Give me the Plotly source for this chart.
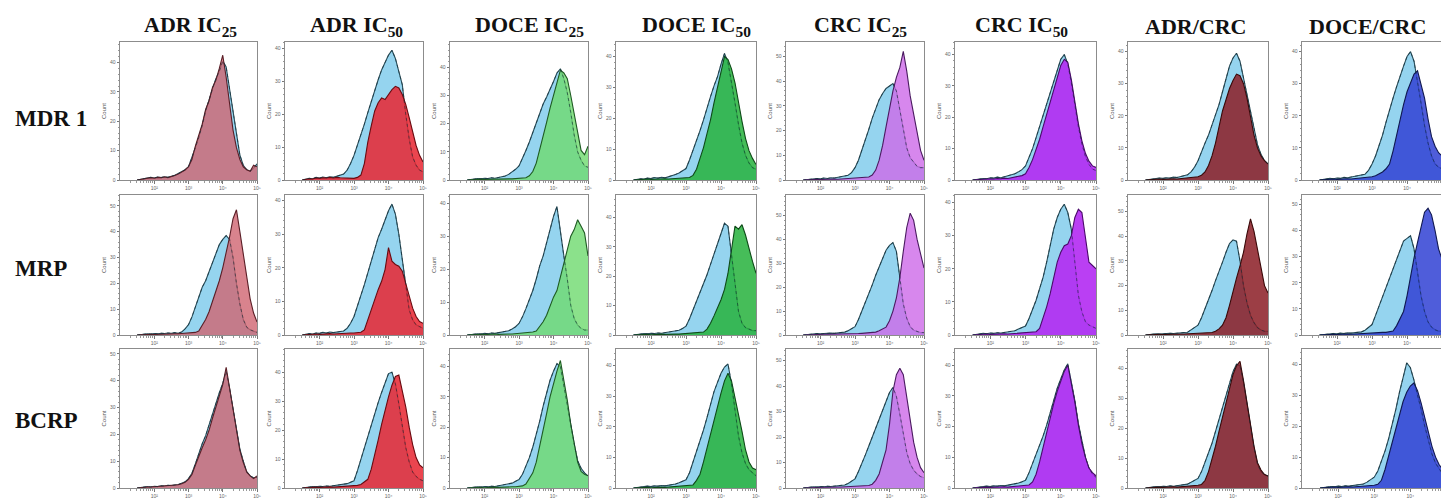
import plotly.graph_objects as go

# ---------------- data ----------------
bins_log10 = [1.5, 1.6, 1.7, 1.8, 1.9, 2.0, 2.1, 2.2, 2.3, 2.4, 2.5, 2.6,
              2.7, 2.8, 2.9, 3.0, 3.1, 3.2, 3.3, 3.4, 3.5, 3.6, 3.7, 3.8,
              3.9, 4.0, 4.1, 4.2, 4.3, 4.4, 4.5, 4.6, 4.7, 4.8, 4.9, 5.0]

column_titles = ["ADR IC<sub>25</sub>", "ADR IC<sub>50</sub>", "DOCE IC<sub>25</sub>", "DOCE IC<sub>50</sub>",
                 "CRC IC<sub>25</sub>", "CRC IC<sub>50</sub>", "ADR/CRC", "DOCE/CRC"]
row_labels = ["MDR 1", "MRP", "BCRP"]
x_tick_vals = [1e2, 1e3, 1e4, 1e5]
x_tick_text = ["10²", "10³", "10⁴", "10⁵"]

# MDR 1 row
mdr1_ctrl_adr25 = [0,0.2,0.4,0.6,0.9,0.7,1.0,0.8,1.1,0.9,1.2,1.6, 2.2,2.8,3.5,4.5,7.5,11,14.5,18.5,23.5,27.5,31,34.5,37,40.5,38.5,31,23,15,8.5,5,3.5,3,4,5.5]
mdr1_trt_adr25 = [0,0.2,0.3,0.5,0.8,0.6,0.9,0.8,1.0,0.8,1.1,1.5, 2.0,2.6,3.4,4.5,7,11.5,15,19,24,27,31.5,34,38,42.5,35,26,17,11,7,4.5,3.5,3,5,4.5]
mdr1_ctrl_adr50 = [0,0.3,0.5,0.4,0.8,0.6,0.9,0.7,1.0,0.8,1.1,1.3, 1.8,3,5,7.5,10.5,13.5,17,20.5,24,27,30.5,33.5,36,38,39.5,37,33,29,20,12.5,7,4.5,3,2.5]
mdr1_trt_adr50 = [0,0.2,0.4,0.3,0.6,0.5,0.7,0.6,0.8,0.6,0.8,0.7, 0.6,0.5,0.5,0.5,0.8,1.5,5,11.5,16.5,21,23.5,25,24.5,26,27.5,28.5,28,26,23,19,14.5,10.5,7.5,5.5]
mdr1_ctrl_doce25 = [0,0.2,0.3,0.5,0.4,0.6,0.5,0.8,0.6,0.9,1.1,1.4, 2,2.8,3.8,5,7.5,10.5,13.5,17,20.5,24,27,29.5,32,35,38,39.5,36,31,24,16,10,7,5,4.5]
mdr1_trt_doce25 = [0,0.1,0.2,0.2,0.3,0.2,0.3,0.2,0.3,0.3,0.4,0.3, 0.4,0.4,0.5,0.5,0.6,0.8,1.5,3,6,10.5,15.5,20.5,25.5,30,34.5,39,38,36,30,23,16,10.5,9,12]
mdr1_ctrl_doce50 = [0,0.2,0.4,0.3,0.6,0.5,0.8,0.6,0.9,0.7,1.0,1.3, 1.8,2.3,3,3.7,6.5,9.5,12.5,16,19.5,23.5,27,30.5,33.5,37.5,41,38,32,25,18,12,8,5.5,4,3.5]
mdr1_trt_doce50 = [0,0.1,0.2,0.2,0.3,0.2,0.3,0.3,0.3,0.4,0.3,0.4, 0.4,0.5,0.5,0.6,0.8,1.5,3.5,7,10.5,15,19.5,25,30,35.5,40,39,36,31.5,25,19,13.5,9.5,7,5]
mdr1_ctrl_crc25 = [0,0.2,0.4,0.3,0.6,0.5,0.8,0.6,0.9,0.8,1.1,1.2, 1.5,1.9,3,5,8,12,16,20.5,25,29,32.5,35,37,38,39,36,28,20,13,9,7,5.5,5,5]
mdr1_trt_crc25 = [0,0.1,0.2,0.2,0.3,0.2,0.3,0.3,0.3,0.4,0.3,0.4, 0.4,0.5,0.5,0.6,0.7,0.8,1,1.2,2,4,8,14,21.5,29,36,41.5,45.5,52,44,34,27,19,12,8]
mdr1_ctrl_crc50 = [0,0.2,0.3,0.5,0.4,0.7,0.6,0.9,0.7,1.0,1.2,1.5, 2,2.6,3.3,4.5,7,10,13.5,17,20.5,24,28,31.5,35,38.5,40,37,31,24,17,11.5,7.5,5,3.5,3]
mdr1_trt_crc50 = [0,0.1,0.2,0.3,0.2,0.4,0.3,0.5,0.4,0.6,0.5,0.7, 0.8,1,1.4,2,4,6.5,9.5,13,17,21,25,29,33,36.5,38.5,37.5,32,25,18,12.5,8.5,6,4.5,4]
mdr1_ctrl_adrcrc = [0,0.2,0.3,0.4,0.6,0.5,0.7,0.6,0.9,0.8,1.0,1.2, 1.6,2.5,4,6,9,11.5,14,17,20,23.5,27.5,31.5,35.5,38,39.5,37,32,27,21.5,16,11,8,6,5]
mdr1_trt_adrcrc = [0,0.1,0.2,0.2,0.3,0.2,0.3,0.3,0.4,0.3,0.4,0.5, 0.5,0.6,0.8,1,1.5,2.5,4.5,7.5,11.5,17,21.5,25,28.5,31,33,32.5,30,25.5,19.5,14,10,7.5,6,5]
mdr1_ctrl_docecrc = [0,0.2,0.3,0.5,0.4,0.6,0.5,0.8,0.7,0.9,1.0,1.2, 1.5,1.8,3,5,7.5,10.5,14,18,22,25.5,29,32.5,35.5,38.5,40,37,31,24,17,11.5,7.5,5,4,3.5]
mdr1_trt_docecrc = [0,0.1,0.2,0.2,0.3,0.2,0.3,0.3,0.4,0.3,0.4,0.5, 0.5,0.6,0.8,1,1.3,1.8,2.5,3.5,5,9,14,19.5,23.5,27.5,30.5,33,34,30,25.5,19,13.5,10.5,8.5,7.5]

# MRP row
mrp_ctrl_adr25 = [0,0.2,0.3,0.5,0.4,0.6,0.5,0.7,0.6,0.8,0.7,0.9, 0.7,1.2,2.4,4,7,11,15,18.5,21,24.5,28,31.5,35,37,38.5,37,30,20,12,6,3,2,1.5,1]
mrp_trt_adr25 = [0,0.1,0.2,0.2,0.3,0.2,0.3,0.3,0.4,0.3,0.4,0.5, 0.5,0.6,0.7,0.8,0.9,1,1.5,3.5,6,9,13,17,21,26,31.5,38,45,48.5,40,31,21,14,8.5,5]
mrp_ctrl_adr50 = [0,0.2,0.4,0.3,0.6,0.5,0.8,0.6,0.9,0.7,0.9,1.0, 1.2,2,3.5,5.5,8.5,11.5,15,18.5,22,26,29,31.5,34.5,37,39,36,30,22,14,7.5,4.5,3,2.5,2]
mrp_trt_adr50 = [0,0.1,0.2,0.2,0.3,0.2,0.3,0.3,0.4,0.3,0.4,0.4, 0.5,0.5,0.6,0.6,0.7,0.8,1.5,4.5,8,11,13.5,16,19.5,26,22,21,20.5,19,15.5,11.5,8,5.5,4,3.5]
mrp_ctrl_doce25 = [0,0.2,0.3,0.4,0.3,0.5,0.4,0.6,0.5,0.7,0.8,1.0, 1.3,1.8,2.5,3.5,5.5,8,10.5,13.5,17,21,24,28,32,36,39,31,24,17,9,5,3,2,1.5,1.5]
mrp_trt_doce25 = [0,0.1,0.1,0.2,0.2,0.1,0.2,0.2,0.3,0.2,0.3,0.3, 0.3,0.3,0.4,0.4,0.5,0.6,0.7,0.9,1.2,2.5,4,6,9,11.5,13.5,17.5,22,26,30,32,35,33,31,24]
mrp_ctrl_doce50 = [0,0.2,0.3,0.5,0.4,0.6,0.5,0.7,0.6,0.8,0.9,1.0, 1.2,1.6,2.2,3,5.5,8.5,11.5,14,17,20.5,24,27.5,31,35,38,37,27,17,8,4,2.5,2,1.5,1.5]
mrp_trt_doce50 = [0,0.1,0.1,0.2,0.2,0.1,0.2,0.2,0.3,0.2,0.3,0.3, 0.3,0.3,0.4,0.4,0.5,0.6,0.7,0.8,1,2,4,6.5,9,12,15.5,21,29,37,36,37.5,34,29,25,21]
mrp_ctrl_crc25 = [0,0.2,0.3,0.4,0.6,0.5,0.7,0.6,0.8,0.7,0.9,1.0, 1.2,1.8,2.5,3.5,6.5,10,13.5,17,21,25,28.5,32,35.5,37.5,38.7,35,23,13,7,3.5,2,1.5,1,1]
mrp_trt_crc25 = [0,0.1,0.2,0.2,0.3,0.2,0.3,0.3,0.3,0.4,0.3,0.4, 0.4,0.4,0.5,0.5,0.6,0.7,0.8,0.9,1,1.2,1.8,2.5,3.3,6,10,15.5,24,35,45,51,48,40,34,28]
mrp_ctrl_crc50 = [0,0.2,0.3,0.5,0.4,0.6,0.5,0.7,0.6,0.8,0.9,1.0, 1.3,1.8,2.2,2.7,5,7.5,10.5,14,17.5,22,27,32,35.5,38,39.5,37,32,22,12,7,4,3,2.5,2]
mrp_trt_crc50 = [0,0.1,0.2,0.2,0.3,0.2,0.3,0.3,0.3,0.4,0.3,0.4, 0.4,0.5,0.5,0.6,0.7,0.8,1,2,5,8.5,12.5,17.5,22,25,27,27.5,30,35.5,38,37,30,22,21,20]
mrp_ctrl_adrcrc = [0,0.2,0.3,0.5,0.4,0.6,0.5,0.7,0.6,0.8,0.9,1.0, 1.1,2,3,4,7,10.5,14.5,18,22,25.5,29.5,33.5,37,38.5,38,30,20,13,8,5,3,2,1.5,1.5]
mrp_trt_adrcrc = [0,0.1,0.2,0.2,0.3,0.2,0.3,0.3,0.4,0.3,0.4,0.4, 0.5,0.5,0.6,0.7,0.8,0.9,1,1,1.5,2.5,4,7,12,18,23,28,33.5,41,47,42,35,27,20,17]
mrp_ctrl_docecrc = [0,0.2,0.3,0.4,0.6,0.5,0.7,0.6,0.8,0.7,0.9,1.0, 1.2,1.8,2.8,4,7.5,11,15,18.5,21.5,25,29,32.5,36,37,38,33,24,15,9,5,3,2,1.5,1.5]
mrp_trt_docecrc = [0,0.1,0.2,0.2,0.3,0.2,0.3,0.3,0.4,0.3,0.4,0.4, 0.5,0.5,0.6,0.7,0.8,0.9,1,1,1.2,1.5,3.5,6,9,15,23,29.5,35.5,41,47,48.5,46,40,33,29]

# BCRP row
bcrp_ctrl_adr25 = [0,0.2,0.3,0.5,0.4,0.6,0.5,0.8,0.7,1.0,0.9,1.1, 1.3,1.8,2.3,3.5,5.5,9,13,16.5,19.5,23.5,28,32,35.5,39,43.5,37,29,21.5,14.5,10,6,4.5,3.8,4]
bcrp_trt_adr25 = [0,0.2,0.3,0.4,0.4,0.5,0.5,0.7,0.6,0.9,0.8,1.0, 1.2,1.6,2.1,3.2,5,8.5,12,15,18,21.5,26,30.5,34.5,38.5,45,37.5,29,21,14,9.5,6,4.5,3.5,4.5]
bcrp_ctrl_adr50 = [0,0.2,0.3,0.5,0.4,0.6,0.5,0.7,0.6,0.8,0.9,1.0, 1.2,1.5,2,2.5,6,10,14,18,22,26,29.5,33,36,39.5,40,36,29,21,14,9,5.5,4,3,2.5]
bcrp_trt_adr50 = [0,0.1,0.2,0.2,0.3,0.2,0.3,0.3,0.4,0.3,0.4,0.4, 0.5,0.5,0.6,0.7,0.9,1.2,2,3,6.5,11,16.5,22,27,31.5,35.5,38.5,39,34,28,21,15,10.5,8,7]
bcrp_ctrl_doce25 = [0,0.2,0.3,0.4,0.3,0.5,0.4,0.6,0.5,0.7,0.8,1.0, 1.2,1.6,2.2,2.8,4.5,7,10,13.5,17.5,22,27,31.5,35.5,38.5,41,40,34,28,21,14.5,9,6.5,5,4]
bcrp_trt_doce25 = [0,0.1,0.1,0.2,0.2,0.1,0.2,0.2,0.3,0.2,0.3,0.3, 0.3,0.4,0.4,0.5,0.7,1.3,3,5,8.5,13.5,19,24.5,30,34.5,38.5,42,36,29,21,14,8.5,5.5,4.5,4]
bcrp_ctrl_doce50 = [0,0.2,0.3,0.4,0.6,0.5,0.7,0.6,0.8,0.7,0.9,1.0, 1.3,1.7,2.2,2.7,5,8.5,11.5,15,19,23,27.5,31.5,34.5,37.5,39.5,40.5,34,25,17,11.5,8,6,5,4]
bcrp_trt_doce50 = [0,0.1,0.1,0.2,0.2,0.1,0.2,0.2,0.3,0.2,0.3,0.3, 0.3,0.4,0.5,0.6,0.8,1,2.5,4.5,8.5,13,18,22.5,27,31,35,37.5,35,30,24,18.5,12.5,8.5,6.5,6]
bcrp_ctrl_crc25 = [0,0.2,0.3,0.5,0.4,0.6,0.5,0.7,0.6,0.8,0.9,1.0, 1.2,1.8,2.6,3.6,6.5,9.5,13,16.5,20,24,27.5,31,34.5,37.5,39.5,36,29,21,14,9.5,7,5.5,4.5,4]
bcrp_trt_crc25 = [0,0.1,0.2,0.2,0.3,0.2,0.3,0.3,0.4,0.3,0.4,0.4, 0.5,0.5,0.6,0.7,0.8,0.9,1,1,1.5,3,5.5,10,15,25,38,44.5,47,44.5,35,26,18,12,8,6]
bcrp_ctrl_crc50 = [0,0.2,0.3,0.4,0.6,0.5,0.7,0.6,0.8,0.7,0.9,1.0, 1.2,1.6,2,2.5,5,8,10.5,13.5,17,20.5,24.5,28.5,32.5,35.5,38.5,40.5,35,28.5,21,15,10,6.5,4.5,3.5]
bcrp_trt_crc50 = [0,0.1,0.2,0.2,0.3,0.2,0.3,0.3,0.3,0.4,0.3,0.4, 0.5,0.6,0.7,0.8,1,2,4.5,8.5,13.5,18.5,23,27.5,31.5,35,38,40,34.5,28,20.5,14.5,10,6.5,5,4]
bcrp_ctrl_adrcrc = [0,0.2,0.3,0.5,0.4,0.6,0.5,0.7,0.6,0.8,0.9,1.1, 1.3,1.9,2.5,3.2,5.5,8.5,11.5,15,19,23,27,31,35,39,41.5,41,35.5,28,20,13.5,8,5.5,4.5,4]
bcrp_trt_adrcrc = [0,0.1,0.2,0.2,0.3,0.2,0.3,0.3,0.4,0.3,0.4,0.4, 0.5,0.6,0.7,0.9,1.2,2.5,5.5,9.5,14,19,24,29,33.5,38,41,42.5,36,28.5,20.5,14,8.5,6,4.5,4]
bcrp_ctrl_docecrc = [0,0.2,0.3,0.5,0.4,0.6,0.5,0.7,0.6,0.8,0.9,1.1, 1.3,1.9,2.6,3.5,5.5,8.5,12,16,20.5,25.5,31,36,40.5,39,35,30,25.5,20,15.5,11,8,6,4.5,4]
bcrp_trt_docecrc = [0,0.1,0.2,0.2,0.3,0.2,0.3,0.3,0.4,0.3,0.4,0.4, 0.5,0.6,0.7,0.9,1.2,2.5,6,10.5,15,19.5,24,28,31,33,34,31.5,27.5,22.5,18,13.5,10,7.5,6,5]

control_series = [
    [mdr1_ctrl_adr25, mdr1_ctrl_adr50, mdr1_ctrl_doce25, mdr1_ctrl_doce50,
     mdr1_ctrl_crc25, mdr1_ctrl_crc50, mdr1_ctrl_adrcrc, mdr1_ctrl_docecrc],
    [mrp_ctrl_adr25, mrp_ctrl_adr50, mrp_ctrl_doce25, mrp_ctrl_doce50,
     mrp_ctrl_crc25, mrp_ctrl_crc50, mrp_ctrl_adrcrc, mrp_ctrl_docecrc],
    [bcrp_ctrl_adr25, bcrp_ctrl_adr50, bcrp_ctrl_doce25, bcrp_ctrl_doce50,
     bcrp_ctrl_crc25, bcrp_ctrl_crc50, bcrp_ctrl_adrcrc, bcrp_ctrl_docecrc],
]
treated_series = [
    [mdr1_trt_adr25, mdr1_trt_adr50, mdr1_trt_doce25, mdr1_trt_doce50,
     mdr1_trt_crc25, mdr1_trt_crc50, mdr1_trt_adrcrc, mdr1_trt_docecrc],
    [mrp_trt_adr25, mrp_trt_adr50, mrp_trt_doce25, mrp_trt_doce50,
     mrp_trt_crc25, mrp_trt_crc50, mrp_trt_adrcrc, mrp_trt_docecrc],
    [bcrp_trt_adr25, bcrp_trt_adr50, bcrp_trt_doce25, bcrp_trt_doce50,
     bcrp_trt_crc25, bcrp_trt_crc50, bcrp_trt_adrcrc, bcrp_trt_docecrc],
]

# ---------------- layout / style ----------------
W, H = 1441, 504
col_px = [(120, 257), (285, 423), (450, 588), (616, 756), (786, 924), (955, 1096), (1128, 1268), (1302, 1441)]
row_px = [(42, 180), (195, 335), (349, 488)]
y_top = [[47, 42, 49, 44.7, 55.8, 44, 43, 43],
         [54.2, 41.7, 42.5, 47.6, 58.6, 42.3, 56.7, 53.6],
         [51.8, 48, 45.8, 45.4, 54.6, 45.3, 46.6, 45]]
x_right = [[5, 5, 5, 5, 5, 5, 5, 4.97], [5, 5, 5, 5, 5, 5, 5, 4.97], [5, 5, 5, 5, 5, 5, 5, 4.85]]
title_cx = [190, 356, 529, 696, 860, 1022, 1195, 1367]
row_cy = [118, 268, 420]

ctrl_fill = "#95d4ef"
ctrl_line = "rgba(22,60,72,0.9)"
trt_fill = ["rgba(208,100,112,0.80)", "rgba(232,38,50,0.86)", "rgba(110,218,110,0.80)",
            "rgba(40,178,62,0.86)", "rgba(205,105,232,0.80)", "rgba(178,42,242,0.90)",
            "rgba(140,30,38,0.86)", "rgba(50,66,212,0.86)"]
trt_line = ["#5a1e26", "#6a0a10", "#1e5a22", "#0e4a18", "#4a1a60", "#4a0a6a", "#3a0808", "#101850"]

xs = [10 ** v for v in bins_log10]
minor_x = [m * 10 ** d for d in range(1, 5) for m in range(2, 10)]

fig = go.Figure()
layout = dict(width=W, height=H, margin=dict(l=0, r=0, t=0, b=0), template="none",
              paper_bgcolor="white", plot_bgcolor="white", showlegend=False,
              font=dict(family="Liberation Sans", color="#555"))
annotations = []

k = 0
for r in range(3):
    for c in range(8):
        k += 1
        xa = "x" if k == 1 else f"x{k}"
        ya = "y" if k == 1 else f"y{k}"
        fig.add_trace(go.Scatter(x=xs, y=control_series[r][c], xaxis=xa, yaxis=ya, mode="lines",
                                 fill="tozeroy", fillcolor=ctrl_fill, line=dict(color=ctrl_line, width=1.1),
                                 hoverinfo="skip"))
        fig.add_trace(go.Scatter(x=xs, y=treated_series[r][c], xaxis=xa, yaxis=ya, mode="lines",
                                 fill="tozeroy", fillcolor=trt_fill[c], line=dict(color=trt_line[c], width=1.1),
                                 hoverinfo="skip"))
        fig.add_trace(go.Scatter(x=xs, y=control_series[r][c], xaxis=xa, yaxis=ya, mode="lines",
                                 line=dict(color="rgba(20,45,55,0.75)", width=0.8, dash="dot"),
                                 hoverinfo="skip"))
        l, rr = col_px[c]
        t, b = row_px[r]
        axis_common = dict(showline=True, mirror=True, linecolor="#8c8c8c", linewidth=1,
                           ticks="outside", ticklen=2.5, tickwidth=0.7, tickcolor="#777",
                           tickfont=dict(size=5, color="#666"), showgrid=False, zeroline=False,
                           automargin=False)
        layout["xaxis" if k == 1 else f"xaxis{k}"] = dict(
            type="log", range=[1, x_right[r][c]], domain=[l / W, min(rr / W, 1.0)], anchor=ya,
            tickmode="array", tickvals=x_tick_vals, ticktext=x_tick_text,
            minor=dict(ticks="outside", ticklen=1.5, tickcolor="#999", tickmode="array", tickvals=minor_x),
            **axis_common)
        layout["yaxis" if k == 1 else f"yaxis{k}"] = dict(
            range=[0, y_top[r][c]], domain=[1 - b / H, 1 - t / H], anchor=xa,
            tickmode="linear", tick0=0, dtick=10,
            minor=dict(ticks="outside", ticklen=1.5, tickcolor="#999", dtick=2),
            title=dict(text="Count", font=dict(size=6, color="#555"), standoff=2),
            **axis_common)

for c, txt in enumerate(column_titles):
    annotations.append(dict(text=f"<b>{txt}</b>", x=title_cx[c] / W, y=1 - 26 / H, xref="paper", yref="paper",
                            xanchor="center", yanchor="middle", showarrow=False,
                            font=dict(family="Liberation Serif", size=22, color="#111")))
for r, txt in enumerate(row_labels):
    annotations.append(dict(text=f"<b>{txt}</b>", x=13 / W, y=1 - row_cy[r] / H, xref="paper", yref="paper",
                            xanchor="left", yanchor="middle", showarrow=False,
                            font=dict(family="Liberation Serif", size=23, color="#111")))

layout["annotations"] = annotations
fig.update_layout(**layout)
fig.write_html("out.html")
